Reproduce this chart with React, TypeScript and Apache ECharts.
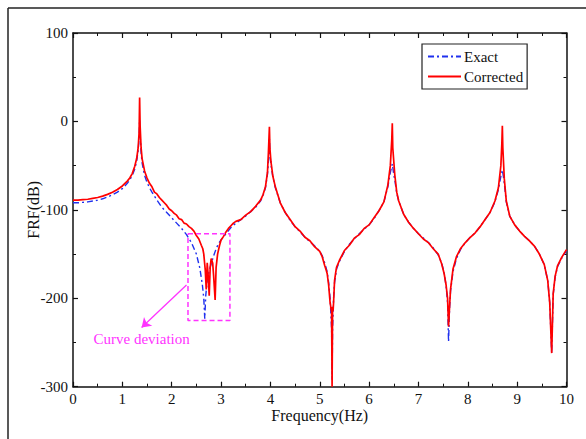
import React, { useEffect, useRef } from "react";
import * as echarts from "echarts";

// Corrected (red) FRF curve
const redFreq = [
  0, 0.1, 0.2, 0.3, 0.4, 0.5, 0.6, 0.7, 0.8, 0.9, 1.0, 1.1, 1.15, 1.2, 1.25, 1.29, 1.32, 1.34, 1.35, 1.36, 1.38, 1.4,
  1.45, 1.5, 1.55, 1.6, 1.65, 1.7, 1.75, 1.8, 1.85, 1.9, 1.95, 2.0, 2.05, 2.1, 2.15, 2.2, 2.25, 2.3, 2.35, 2.4, 2.45, 2.5,
  2.55, 2.6, 2.63, 2.65, 2.68, 2.7, 2.72, 2.74, 2.76, 2.78, 2.8, 2.83, 2.85, 2.88, 2.9, 2.93, 2.97, 3.0, 3.05, 3.1,
  3.15, 3.2, 3.25, 3.3, 3.4, 3.5, 3.6, 3.7, 3.8, 3.85, 3.9, 3.94, 3.96, 3.98, 3.99, 4.01, 4.05, 4.1, 4.2, 4.3, 4.4,
  4.5, 4.6, 4.7, 4.8, 4.9, 5.0, 5.05, 5.1, 5.13, 5.15, 5.18, 5.21, 5.23, 5.24, 5.25, 5.26, 5.27, 5.28, 5.3, 5.32, 5.34,
  5.4, 5.5, 5.6, 5.7, 5.8, 5.9, 6.0, 6.1, 6.2, 6.3, 6.38, 6.43, 6.46, 6.47, 6.48, 6.52, 6.56, 6.6, 6.7, 6.8, 6.9, 7.0,
  7.1, 7.2, 7.3, 7.4, 7.47, 7.52, 7.56, 7.59, 7.61, 7.63, 7.65, 7.7, 7.77, 7.85, 7.95, 8.05, 8.15, 8.25, 8.35, 8.45,
  8.55, 8.62, 8.67, 8.69, 8.7, 8.71, 8.74, 8.78, 8.85, 8.95, 9.05, 9.15, 9.25, 9.35, 9.45, 9.55, 9.62, 9.66, 9.7,
  9.73, 9.77, 9.82, 9.9, 10,
];
const redFRF = [
  -89, -89, -88.5, -88, -87, -86, -84.5, -82.5, -80, -77, -73, -67.5, -64, -59, -51, -42, -30, -12, 27, -5, -30, -42,
  -56, -64, -70, -74, -80, -82, -86, -89, -92, -95, -99, -101, -104, -106, -110, -111, -115, -116, -119, -121, -124, -129,
  -133, -140, -144, -150, -168, -190, -160, -175, -197, -165, -155, -160, -175, -202, -165, -150, -140, -134, -130, -125,
  -121, -118, -115, -113, -111, -106, -102, -96, -89, -83, -74, -58, -35, -6, -30, -45, -62, -74, -92, -103, -111,
  -119, -124, -131, -135, -142, -147, -153, -163, -168, -172, -185, -205, -212, -215, -300, -210, -214, -205, -180, -172, -165,
  -157, -146, -140, -132, -128, -121, -117, -109, -101, -91, -72, -50, -20, -2, -30, -60, -80, -90, -105, -114, -121, -127,
  -133, -137, -144, -150, -161, -172, -185, -200, -232, -210, -190, -167, -153, -144, -137, -131, -126, -119, -111, -103,
  -90, -75, -50, -25, -5, -30, -65, -90, -107, -117, -124, -130, -135, -141, -150, -162, -180, -205, -262,
  -195, -175, -163, -154, -145,
];

// Exact (blue) FRF curve
const blueFreq = [
  0, 0.1, 0.2, 0.3, 0.4, 0.5, 0.6, 0.7, 0.8, 0.9, 1.0, 1.1, 1.15, 1.2, 1.25, 1.29, 1.32, 1.34, 1.35, 1.36, 1.38, 1.4,
  1.45, 1.5, 1.55, 1.6, 1.7, 1.8, 1.9, 2.0, 2.1, 2.2, 2.3, 2.4, 2.5, 2.57, 2.62, 2.65, 2.67, 2.69, 2.72, 2.76, 2.8,
  2.85, 2.9, 2.95, 3.0, 3.1, 3.2, 3.3, 3.4, 3.5, 3.6, 3.7, 3.8, 3.85, 3.9, 3.94, 3.97, 3.98, 3.99, 4.01, 4.05, 4.1,
  4.2, 4.3, 4.4, 4.5, 4.6, 4.7, 4.8, 4.9, 5.0, 5.05, 5.1, 5.15, 5.18, 5.21, 5.24, 5.25, 5.26, 5.28, 5.3, 5.34, 5.4,
  5.5, 5.6, 5.7, 5.8, 5.9, 6.0, 6.1, 6.2, 6.3, 6.38, 6.43, 6.47, 6.5, 6.52, 6.56, 6.6, 6.7, 6.8, 6.9, 7.0, 7.1, 7.2,
  7.3, 7.4, 7.47, 7.52, 7.56, 7.59, 7.61, 7.63, 7.65, 7.7, 7.77, 7.85, 7.95, 8.05, 8.15, 8.25, 8.35, 8.45, 8.55, 8.62,
  8.67, 8.7, 8.72, 8.74, 8.78, 8.85, 8.95, 9.05, 9.15, 9.25, 9.35, 9.45, 9.55, 9.62, 9.66, 9.7, 9.73, 9.77, 9.82, 9.9,
  10,
];
const blueFRF = [
  -92, -92, -91.5, -91, -90, -89, -87.5, -85.5, -83, -80, -76, -70, -66, -61, -54, -45, -33, -18, 2, -15, -35, -47,
  -61, -69, -75, -80, -89, -97, -103, -109, -115, -121, -128, -137, -150, -166, -184, -200, -223, -197, -180, -169, -161,
  -152, -144, -138, -134, -127, -120, -115, -111, -107, -102, -97, -90, -84, -75, -60, -38, -20, -36, -48, -63, -75,
  -92, -103, -112, -119, -125, -131, -136, -141, -147, -152, -160, -170, -182, -200, -235, -292, -235, -200, -182, -167, -158,
  -147, -139, -133, -127, -122, -117, -110, -101, -91, -74, -58, -48, -60, -66, -81, -90, -105, -114, -121, -127, -132, -137,
  -143, -151, -160, -171, -186, -205, -249, -212, -192, -170, -155, -145, -137, -131, -126, -119, -111, -103, -91, -77,
  -62, -55, -62, -70, -91, -107, -117, -124, -130, -135, -141, -150, -162, -180, -205, -262, -196, -176, -164, -155,
  -146,
];

// Annotation: dashed box around the deviation, arrow and label
const boxFreq = [2.33, 3.18, 3.18, 2.33, 2.33];
const boxFRF = [-127, -127, -225, -225, -127];
const arrowStart = [2.3, -185];
const arrowEnd = [1.39, -233];
const labelAt = [1.39, -246];

const xTicks = { min: 0, max: 10, interval: 1 };
const yTicks = { min: -300, max: 100, interval: 100 };

const SERIF = "Liberation Serif";
const MAGENTA = "#ff33ff";

export default function App() {
  const ref = useRef<HTMLDivElement>(null);

  useEffect(() => {
    if (!ref.current) return;
    const chart = echarts.init(ref.current, undefined, { renderer: "svg" });
    const zip = (a: number[], b: number[]) => a.map((v, i) => [v, b[i]]);

    const axisLine = { show: true, onZero: false, lineStyle: { color: "#111", width: 1.5 } };
    const tick = { show: true, inside: true, length: 5, lineStyle: { color: "#111", width: 1.2 } };
    const minor = { show: true, splitNumber: 2, length: 3, lineStyle: { color: "#111", width: 1 } };

    chart.setOption({
      animation: false,
      backgroundColor: "#fff",
      textStyle: { fontFamily: SERIF },
      grid: { left: 73, top: 33, right: 19.5, bottom: 52.3, containLabel: false },
      graphic: [
        { type: "line", shape: { x1: 8, y1: 8, x2: 586, y2: 8 }, style: { stroke: "#222", lineWidth: 1.5 } },
        { type: "line", shape: { x1: 8, y1: 8, x2: 8, y2: 439 }, style: { stroke: "#222", lineWidth: 1.5 } },
      ],
      legend: {
        data: ["Exact", "Corrected"],
        orient: "vertical",
        left: 422,
        top: 44,
        itemWidth: 33,
        itemHeight: 10,
        itemGap: 5,
        padding: [5, 4, 5, 5],
        borderColor: "#222",
        borderWidth: 1.2,
        backgroundColor: "#fff",
        itemStyle: { opacity: 0 },
        textStyle: { fontFamily: SERIF, fontSize: 15, color: "#111", padding: [0, 0, 0, -2] },
      },
      xAxis: [
        {
          type: "value",
          ...xTicks,
          name: "Frequency(Hz)",
          nameLocation: "middle",
          nameGap: 21,
          nameMoveOverlap: false,
          nameTextStyle: { fontFamily: SERIF, fontSize: 16, color: "#111" },
          axisLine,
          axisTick: tick,
          minorTick: minor,
          splitLine: { show: false },
          axisLabel: { fontFamily: SERIF, fontSize: 15, color: "#111", margin: 5 },
        },
        {
          type: "value",
          ...xTicks,
          position: "top",
          axisLine,
          axisTick: tick,
          minorTick: minor,
          splitLine: { show: false },
          axisLabel: { show: false },
        },
      ],
      yAxis: [
        {
          type: "value",
          ...yTicks,
          name: "FRF(dB)",
          nameLocation: "middle",
          nameGap: 32,
          nameMoveOverlap: false,
          nameTextStyle: { fontFamily: SERIF, fontSize: 16, color: "#111" },
          axisLine,
          axisTick: tick,
          minorTick: minor,
          splitLine: { show: false },
          axisLabel: { fontFamily: SERIF, fontSize: 15, color: "#111", margin: 5 },
        },
        {
          type: "value",
          ...yTicks,
          position: "right",
          axisLine,
          axisTick: tick,
          minorTick: minor,
          splitLine: { show: false },
          axisLabel: { show: false },
        },
      ],
      series: [
        {
          name: "Exact",
          type: "line",
          data: zip(blueFreq, blueFRF),
          showSymbol: false,
          symbol: "none",
          itemStyle: { color: "#2030ee" },
          lineStyle: { color: "#2030ee", width: 1.4, type: [6, 3, 2, 3] },
          z: 2,
          silent: true,
        },
        {
          name: "Corrected",
          type: "line",
          data: zip(redFreq, redFRF),
          showSymbol: false,
          symbol: "none",
          itemStyle: { color: "#ff0000" },
          lineStyle: { color: "#ff0000", width: 1.7 },
          z: 3,
          silent: true,
        },
        {
          name: "box",
          type: "line",
          data: zip(boxFreq, boxFRF),
          showSymbol: false,
          symbol: "none",
          lineStyle: { color: MAGENTA, width: 1.5, type: [5, 3] },
          z: 4,
          silent: true,
          markLine: {
            silent: true,
            symbol: ["none", "arrow"],
            symbolSize: 9,
            label: { show: false },
            lineStyle: { color: MAGENTA, width: 1.3, type: "solid" },
            data: [[{ coord: arrowStart }, { coord: arrowEnd }]],
          },
          markPoint: {
            silent: true,
            symbol: "circle",
            symbolSize: 0,
            data: [
              {
                coord: labelAt,
                label: {
                  show: true,
                  formatter: "Curve deviation",
                  color: MAGENTA,
                  fontFamily: SERIF,
                  fontSize: 15,
                  position: "inside",
                },
              },
            ],
          },
        },
      ],
    });
    return () => chart.dispose();
  }, []);

  return (
    <div
      ref={ref}
      style={{ position: "fixed", left: 0, top: 0, width: 586, height: 439, background: "#fff" }}
    />
  );
}
